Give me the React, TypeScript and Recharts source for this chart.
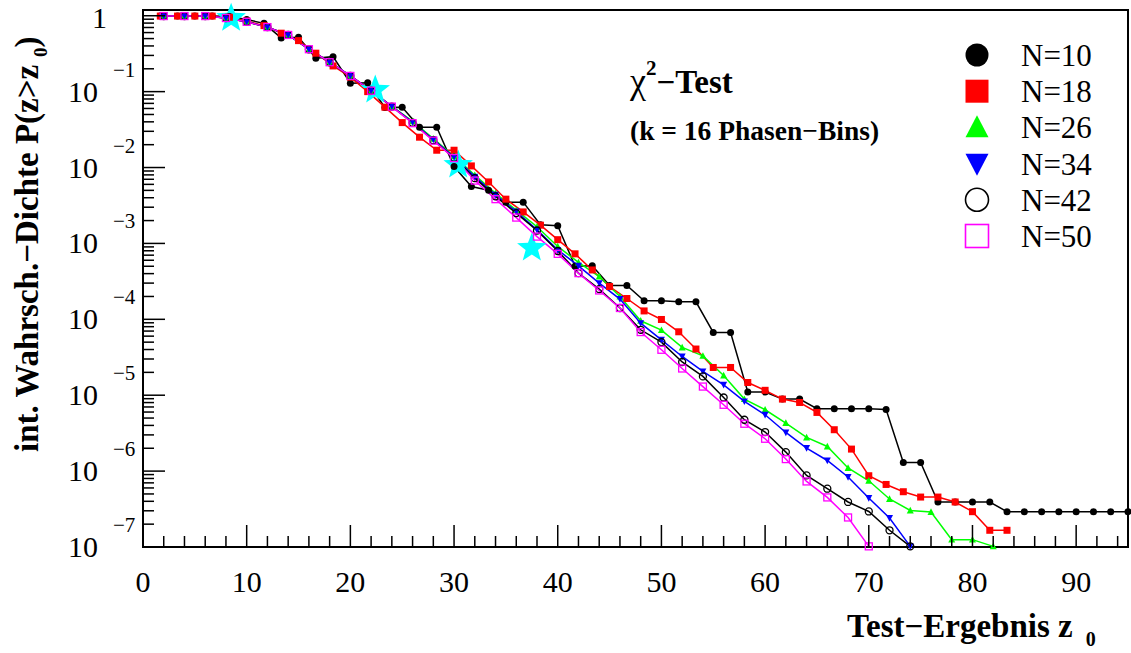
import React from 'react';
import { ComposedChart, Line, Scatter, XAxis, YAxis, Legend, ReferenceArea } from 'recharts';

// bin centres: N=10 and N=18 use a 5/3 grid, the others a grid of 2
const xFine = [
  1.67, 3.33, 5, 6.67, 8.33, 10, 11.67, 13.33, 15, 16.67, 18.33, 20, 21.67, 23.33, 25, 26.67,
  28.33, 30, 31.67, 33.33, 35, 36.67, 38.33, 40, 41.67, 43.33, 45, 46.67, 48.33, 50, 51.67,
  53.33, 55, 56.67, 58.33, 60, 61.67, 63.33, 65, 66.67, 68.33, 70, 71.67, 73.33, 75, 76.67,
  78.33, 80, 81.67, 83.33, 85, 86.67, 88.33, 90, 91.67, 93.33, 95,
];
const xEven = [
  2, 4, 6, 8, 10, 12, 14, 16, 18, 20, 22, 24, 26, 28, 30, 32, 34, 36, 38, 40, 42, 44, 46, 48,
  50, 52, 54, 56, 58, 60, 62, 64, 66, 68, 70, 72, 74, 76, 78, 80, 82,
];

const pN10 = [
  0.99, 0.99, 0.99, 0.99, 0.98, 0.891, 0.794, 0.51, 0.52, 0.275, 0.289, 0.129, 0.131, 0.0617,
  0.0624, 0.034, 0.034, 0.0103, 0.00562, 0.00501, 0.0035, 0.0035, 0.00176, 0.00171, 5.01e-4,
  5.07e-4, 2.79e-4, 2.79e-4, 1.75e-4, 1.75e-4, 1.7e-4, 1.7e-4, 6.71e-5, 6.71e-5, 1.1e-5, 1.1e-5,
  8.89e-6, 8.89e-6, 6.64e-6, 6.64e-6, 6.64e-6, 6.64e-6, 6.5e-6, 1.3e-6, 1.3e-6, 3.92e-7, 3.92e-7,
  3.92e-7, 3.92e-7, 2.92e-7, 2.92e-7, 2.92e-7, 2.92e-7, 2.92e-7, 2.92e-7, 2.92e-7, 2.92e-7,
];
const pN18 = [
  0.99, 0.99, 0.99, 0.99, 0.955, 0.851, 0.741, 0.589, 0.47, 0.321, 0.218, 0.155, 0.1, 0.0624,
  0.0391, 0.0251, 0.0169, 0.0169, 0.0105, 0.00646, 0.00383, 0.0026, 0.00174, 0.00112, 7.29e-4,
  4.47e-4, 2.7e-4, 1.88e-4, 1.29e-4, 9.95e-5, 6.85e-5, 4.06e-5, 2.32e-5, 2.32e-5, 1.47e-5,
  1.16e-5, 8.89e-6, 8.02e-6, 5.93e-6, 3.51e-6, 1.95e-6, 8.69e-7, 6.67e-7, 5.35e-7, 4.55e-7,
  4.55e-7, 3.92e-7, 2.92e-7, 1.66e-7, 1.66e-7,
];
const pN26 = [
  0.99, 0.99, 0.99, 0.933, 0.832, 0.708, 0.558, 0.362, 0.244, 0.161, 0.103, 0.064, 0.0407, 0.024,
  0.0141, 0.00794, 0.00457, 0.00275, 0.00166, 9.12e-4, 5.62e-4, 3.66e-4, 2.0e-4, 9.57e-5,
  7.21e-5, 4.26e-5, 3.3e-5, 1.82e-5, 8.89e-6, 6.43e-6, 4.3e-6, 2.78e-6, 2.11e-6, 1.1e-6,
  7.46e-7, 4.29e-7, 3.03e-7, 2.89e-7, 1.25e-7, 1.25e-7, 1.02e-7,
];
const pN34 = [
  0.99, 0.99, 0.99, 0.933, 0.832, 0.708, 0.558, 0.362, 0.244, 0.161, 0.103, 0.064, 0.0398,
  0.0234, 0.0138, 0.00759, 0.00437, 0.00263, 0.00151, 8.22e-4, 5.07e-4, 3.0e-4, 1.85e-4,
  8.91e-5, 5.37e-5, 3.24e-5, 2.06e-5, 1.37e-5, 8.28e-6, 5.53e-6, 3.23e-6, 2.01e-6, 1.38e-6,
  8.36e-7, 4.42e-7, 2.41e-7, 1.02e-7,
];
const pN42 = [
  0.99, 0.99, 0.99, 0.933, 0.832, 0.708, 0.558, 0.362, 0.244, 0.161, 0.103, 0.0635, 0.0389,
  0.0229, 0.0135, 0.00724, 0.00417, 0.00251, 0.00148, 7.94e-4, 4.06e-4, 2.5e-4, 1.41e-4,
  7.28e-5, 5.01e-5, 2.74e-5, 1.77e-5, 9.33e-6, 4.75e-6, 3.27e-6, 1.78e-6, 8.77e-7, 5.86e-7,
  3.92e-7, 2.94e-7, 1.66e-7, 1.02e-7,
];
const pN50 = [
  0.99, 0.99, 0.99, 0.933, 0.832, 0.708, 0.558, 0.362, 0.244, 0.161, 0.103, 0.0635, 0.0384,
  0.0226, 0.0133, 0.00673, 0.00383, 0.00219, 0.00123, 7.29e-4, 4.06e-4, 2.4e-4, 1.41e-4,
  6.79e-5, 3.97e-5, 2.25e-5, 1.3e-5, 7.48e-6, 4.21e-6, 2.67e-6, 1.44e-6, 7.31e-7, 4.5e-7,
  2.45e-7, 1.02e-7,
];

// cyan reference stars
const starX = [8.5, 22.4, 30.4, 37.5];
const starP = [0.93, 0.105, 0.0108, 8.7e-4];

const seriesNames = ['N=10', 'N=18', 'N=26', 'N=34', 'N=42', 'N=50'];
const seriesColors = ['#000000', '#ff0000', '#00ff00', '#0000ff', '#000000', '#ff00ff'];
const seriesShapes = ['circle', 'square', 'triUp', 'triDown', 'openCircle', 'openSquare'];
const seriesX = [xFine, xFine, xEven, xEven, xEven, xEven];
const seriesP = [pN10, pN18, pN26, pN34, pN42, pN50];

const xTicks = [
  0, 2, 4, 6, 8, 10, 12, 14, 16, 18, 20, 22, 24, 26, 28, 30, 32, 34, 36, 38, 40, 42, 44, 46, 48,
  50, 52, 54, 56, 58, 60, 62, 64, 66, 68, 70, 72, 74, 76, 78, 80, 82, 84, 86, 88, 90, 92, 94,
];
const xLabels = [0, 10, 20, 30, 40, 50, 60, 70, 80, 90];
const yDecades = [1e-7, 1e-6, 1e-5, 1e-4, 1e-3, 1e-2, 1e-1, 1];
const yExpLabels = ['−7', '−6', '−5', '−4', '−3', '−2', '−1', ''];
const yMinorFactors = [2, 3, 4, 5, 6, 7, 8, 9];

const FONT = '"Liberation Serif", "Times New Roman", serif';

const yTicks: number[] = [];
yDecades.forEach((d, i) => {
  yTicks.push(d);
  if (i < yDecades.length - 1) yMinorFactors.forEach((m) => yTicks.push(m * d));
});

const seriesData = seriesP.map((ps, s) => ps.map((p, i) => ({ x: seriesX[s][i], p })));
const starData = starX.map((x, i) => ({ x, p: starP[i] }));

function Marker({ shape, color, cx, cy, s, sw = 1.3 }: any) {
  const h = s / 2;
  switch (shape) {
    case 'circle':
      return <circle cx={cx} cy={cy} r={h} fill={color} />;
    case 'square':
      return <rect x={cx - h} y={cy - h} width={s} height={s} fill={color} />;
    case 'triUp':
      return <polygon points={`${cx - h},${cy + h * 0.85} ${cx + h},${cy + h * 0.85} ${cx},${cy - h * 1.05}`} fill={color} />;
    case 'triDown':
      return <polygon points={`${cx - h},${cy - h * 0.85} ${cx + h},${cy - h * 0.85} ${cx},${cy + h * 1.05}`} fill={color} />;
    case 'openCircle':
      return <circle cx={cx} cy={cy} r={h} fill="none" stroke={color} strokeWidth={sw} />;
    default:
      return <rect x={cx - h} y={cy - h} width={s} height={s} fill="none" stroke={color} strokeWidth={sw} />;
  }
}

function StarShape(props: any) {
  const { cx, cy } = props;
  const pts: string[] = [];
  for (let k = 0; k < 10; k++) {
    const r = k % 2 === 0 ? 15.5 : 6.5;
    const a = -Math.PI / 2 + (k * Math.PI) / 5;
    pts.push(`${cx + r * Math.cos(a)},${cy + r * Math.sin(a)}`);
  }
  return <polygon points={pts.join(' ')} fill="#00ffff" />;
}

function XTick({ x, y, payload }: any) {
  const v = payload.value;
  const major = xLabels.includes(v);
  return (
    <g>
      <line x1={x} x2={x} y1={y} y2={y - (major ? 22 : 11)} stroke="#000" strokeWidth={1.5} />
      {major && (
        <text x={x} y={y + 45} textAnchor="middle" fontSize={30} fontFamily={FONT} fill="#000">
          {v}
        </text>
      )}
    </g>
  );
}

function YTick({ x, y, payload }: any) {
  const v = payload.value;
  const idx = yDecades.indexOf(v);
  const major = idx >= 0;
  return (
    <g>
      <line x1={x} x2={x + (major ? 22 : 11)} y1={y} y2={y} stroke="#000" strokeWidth={1.5} />
      {major && v === 1 && (
        <text x={x - 36} y={y + 12} textAnchor="end" fontSize={30} fontFamily={FONT} fill="#000">1</text>
      )}
      {major && v !== 1 && (
        <g>
          <text x={x - 45} y={y + 10} textAnchor="end" fontSize={30} fontFamily={FONT} fill="#000">10</text>
          <text x={x - 30} y={y - 15} fontSize={21} fontFamily={FONT} fill="#000">{yExpLabels[idx]}</text>
        </g>
      )}
    </g>
  );
}

function YTitle() {
  return (
    <text x={38} y={452} transform="rotate(-90 38 452)" fontSize={33} fontWeight="bold" fontFamily={FONT} fill="#000">
      int. Wahrsch.−Dichte P(z&gt;z
      <tspan dx={8} dy={9} fontSize={19}>0</tspan>
      <tspan dy={-9}>)</tspan>
    </text>
  );
}

function XTitle() {
  return (
    <text x={847} y={637} fontSize={33} fontWeight="bold" fontFamily={FONT} fill="#000">
      Test−Ergebnis z
      <tspan dx={13} dy={9} fontSize={20}>0</tspan>
    </text>
  );
}

function LegendBox() {
  return (
    <svg width={170} height={220} style={{ overflow: 'visible', display: 'block' }}>
      {seriesNames.map((n, i) => {
        const cy = 20 + i * 36.2;
        return (
          <g key={n}>
            <Marker shape={seriesShapes[i]} color={seriesColors[i]} cx={22} cy={cy} s={23} sw={1.6} />
            <text x={66} y={cy + 11} fontSize={31} fontFamily={FONT} fill="#000">{n}</text>
          </g>
        );
      })}
    </svg>
  );
}

export default function App() {
  return (
    <div style={{ position: 'relative', width: 1131, height: 653, background: '#fff' }}>
      <style>{'body{margin:0}'}</style>
      <ComposedChart width={1131} height={653} margin={{ top: 10, right: 3, bottom: 0, left: 0 }}>
        <XAxis
          dataKey="x"
          type="number"
          domain={[0, 95]}
          ticks={xTicks}
          interval={0}
          height={106}
          axisLine={false}
          tickLine={false}
          tickSize={0}
          tickMargin={0}
          tick={<XTick />}
          label={<XTitle />}
        />
        <YAxis
          type="number"
          scale="log"
          domain={[1e-7, 1.19]}
          ticks={yTicks}
          interval={0}
          width={143}
          axisLine={false}
          tickLine={false}
          tickSize={0}
          tickMargin={0}
          tick={<YTick />}
          label={<YTitle />}
        />
        <Scatter data={starData} dataKey="p" shape={StarShape} isAnimationActive={false} legendType="none" />
        {seriesData.map((d, s) => (
          <Line
            key={seriesNames[s]}
            data={d}
            dataKey="p"
            name={seriesNames[s]}
            stroke={seriesColors[s]}
            strokeWidth={1.5}
            type="linear"
            isAnimationActive={false}
            dot={(p: any) => (
              <Marker key={`${s}-${p.index}`} shape={seriesShapes[s]} color={seriesColors[s]} cx={p.cx} cy={p.cy} s={7} />
            )}
            activeDot={false}
          />
        ))}
        <ReferenceArea x1={0} x2={95} y1={1e-7} y2={1.19} fill="none" stroke="#000" strokeWidth={2} ifOverflow="visible" />
        <Legend
          layout="vertical"
          align="center"
          verticalAlign="middle"
          wrapperStyle={{ left: 955, top: 35, width: 170, height: 220 }}
          content={() => <LegendBox />}
        />
      </ComposedChart>
      <svg width={1131} height={653} style={{ position: 'absolute', left: 0, top: 0, pointerEvents: 'none' }}>
        <text x={630} y={93} fontSize={36} fontFamily={FONT} fill="#000">
          χ
          <tspan dy={-18} fontSize={21} fontWeight="bold">2</tspan>
          <tspan dy={18} fontSize={33} fontWeight="bold">−Test</tspan>
        </text>
        <text x={630} y={140} fontSize={27.5} fontWeight="bold" fontFamily={FONT} fill="#000">
          (k = 16 Phasen−Bins)
        </text>
      </svg>
    </div>
  );
}
